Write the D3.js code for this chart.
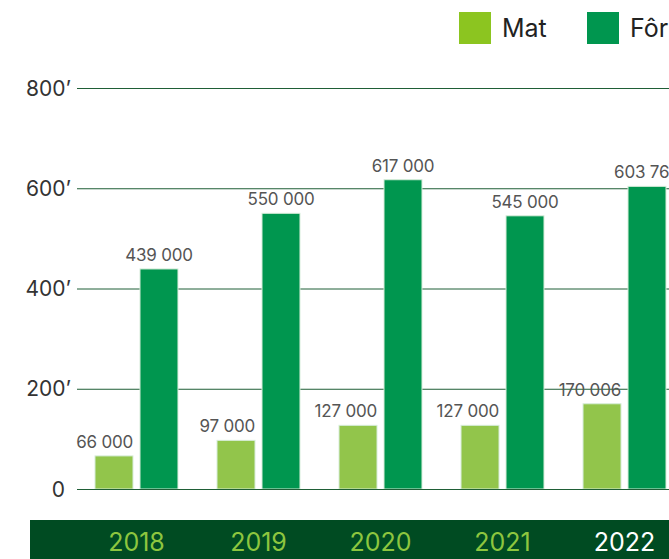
<!DOCTYPE html>
<html>
<head>
<meta charset="utf-8">
<script src="https://cdn.jsdelivr.net/npm/d3@7"></script>
<style>
  html, body { margin: 0; padding: 0; overflow: hidden; background: #fff; }
  svg { display: block; font-family: Inter, "Noto Sans", sans-serif; }
</style>
</head>
<body>
<svg width="760" height="559"></svg>
<script>
var years = ["2018", "2019", "2020", "2021", "2022"];
var mat = [66000, 97000, 127000, 127000, 170006];
var fodder = [439000, 550000, 617000, 545000, 603760];
var series = ["Mat", "Fôr"];
var yTicks = [0, 200000, 400000, 600000, 800000];

var colors = {Mat: "#92c54b", "Fôr": "#00964f"};
var legendColors = {Mat: "#8cc520", "Fôr": "#00964f"};

var svg = d3.select("svg");

var data = years.map(function(y, i) {
  return {year: y, Mat: mat[i], "Fôr": fodder[i]};
});

var y = d3.scaleLinear()
    .domain([0, 800000])
    .range([489, 88]);

var x0 = d3.scaleBand()
    .domain(years)
    .range([75, 686])
    .paddingInner(0.32)
    .paddingOuter(0.164);

var x1 = d3.scaleBand()
    .domain(series)
    .range([0, x0.bandwidth()])
    .paddingInner(0.156);

var fmt = d3.formatLocale({decimal: ",", thousands: " ", grouping: [3], currency: ["", ""]}).format(",d");

// grid + y labels
var grid = svg.append("g").attr("class", "grid");
grid.selectAll("line")
  .data(yTicks)
  .enter().append("line")
    .attr("x1", 77)
    .attr("x2", 760)
    .attr("y1", function(d) { return y(d) + 0.5; })
    .attr("y2", function(d) { return y(d) + 0.5; })
    .attr("stroke", "#1f5e36")
    .attr("stroke-width", 1);

grid.selectAll("text")
  .data(yTicks)
  .enter().append("text")
    .attr("x", function(d) { return d === 0 ? 65 : 71; })
    .attr("y", function(d) { return y(d); })
    .attr("dy", "0.36em")
    .attr("text-anchor", "end")
    .attr("fill", "#333")
    .style("font-size", "21px")
    .text(function(d) { return d === 0 ? "0" : (d / 1000) + "’"; });

// bars
var groups = svg.selectAll(".group")
  .data(data)
  .enter().append("g")
    .attr("class", "group")
    .attr("transform", function(d) { return "translate(" + x0(d.year) + ",0)"; });

groups.selectAll("rect")
  .data(function(d) { return series.map(function(k) { return {key: k, value: d[k]}; }); })
  .enter().append("rect")
    .attr("x", function(d) { return x1(d.key); })
    .attr("y", function(d) { return y(d.value); })
    .attr("width", x1.bandwidth())
    .attr("height", function(d) { return y(0) - y(d.value); })
    .attr("fill", function(d) { return colors[d.key]; })
    .attr("stroke", "#d6ecd9")
    .attr("stroke-width", 1);

groups.selectAll("text")
  .data(function(d) { return series.map(function(k) { return {key: k, value: d[k]}; }); })
  .enter().append("text")
    .attr("x", function(d) {
      return d.key === "Mat" ? x1(d.key) + x1.bandwidth() : x1(d.key) + x1.bandwidth() / 2;
    })
    .attr("y", function(d) { return y(d.value) - 8; })
    .attr("text-anchor", function(d) { return d.key === "Mat" ? "end" : "middle"; })
    .attr("fill", "#555")
    .style("font-size", "17px")
    .style("letter-spacing", "-0.2px")
    .text(function(d) { return fmt(d.value); });

// zero line on top
svg.append("line")
    .attr("x1", 77).attr("x2", 760)
    .attr("y1", y(0) + 0.5).attr("y2", y(0) + 0.5)
    .attr("stroke", "#1f5e36");

// bottom band with years
svg.append("rect")
    .attr("x", 30).attr("y", 520)
    .attr("width", 730).attr("height", 39)
    .attr("fill", "#004b22");

svg.selectAll(".year")
  .data(years)
  .enter().append("text")
    .attr("class", "year")
    .attr("x", function(d) { return x0(d) + x0.bandwidth() / 2; })
    .attr("y", 551)
    .attr("text-anchor", "middle")
    .attr("fill", function(d, i) { return i === years.length - 1 ? "#ffffff" : "#8dc63f"; })
    .style("font-size", "25px")
    .text(function(d) { return d; });

// legend
var legend = svg.selectAll(".legend")
  .data(series)
  .enter().append("g")
    .attr("class", "legend")
    .attr("transform", function(d, i) { return "translate(" + (459 + i * 128) + ",12)"; });

legend.append("rect")
    .attr("width", 32)
    .attr("height", 32)
    .attr("fill", function(d) { return legendColors[d]; });

legend.append("text")
    .attr("x", 43)
    .attr("y", 25)
    .attr("fill", "#222")
    .style("font-size", "25px")
    .text(function(d) { return d; });
</script>
</body>
</html>
